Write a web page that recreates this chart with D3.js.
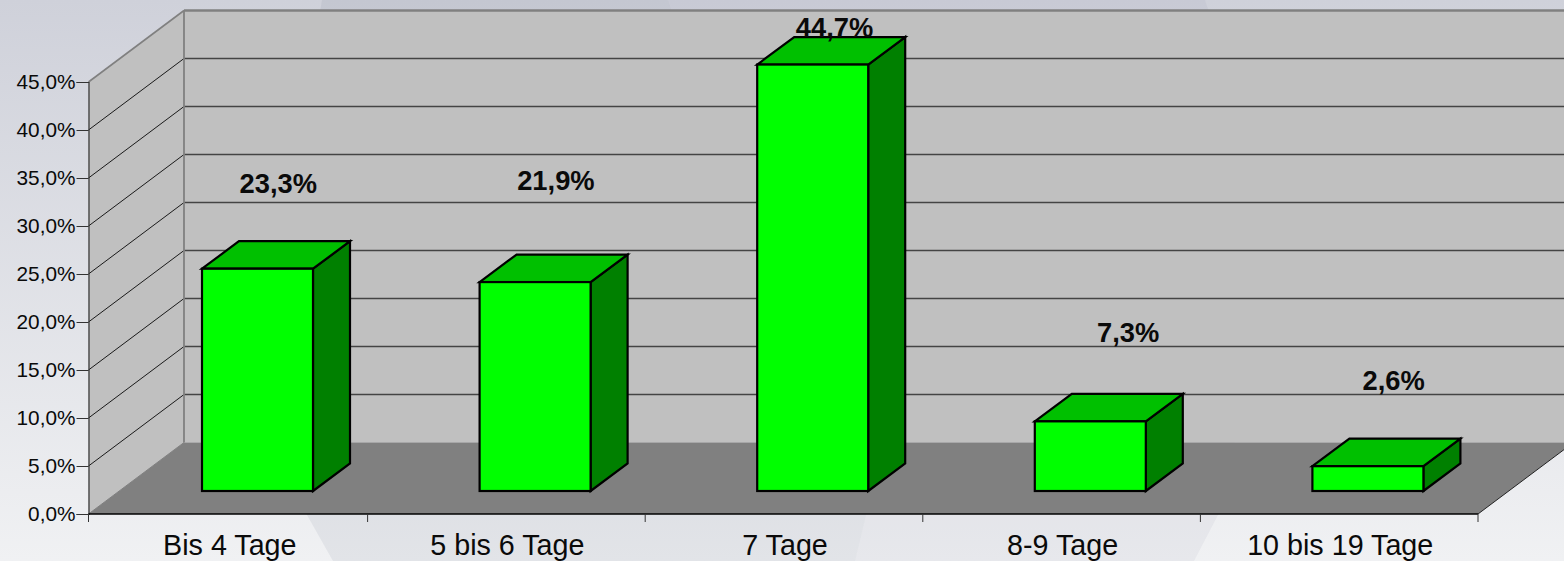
<!DOCTYPE html>
<html>
<head>
<meta charset="utf-8">
<script src="https://cdn.jsdelivr.net/npm/d3@7"></script>
<style>
html,body{margin:0;padding:0;overflow:hidden;background:#eee}
svg{display:block}
text{font-family:"Liberation Sans",Arial,sans-serif;fill:#0a0a0a}
</style>
</head>
<body>
<svg id="c" width="1564" height="561"></svg>
<script>
const categories = ["Bis 4 Tage","5 bis 6 Tage","7 Tage","8-9 Tage","10 bis 19 Tage"];
const values = [23.3,21.9,44.7,7.3,2.6];
const valueLabels = ["23,3%","21,9%","44,7%","7,3%","2,6%"];
const yTicks = [0,5,10,15,20,25,30,35,40,45];
const labelLift = [76,92,28,79,76];
const labelShift = [0,0,1,17,5];

const W=1564,H=561;
const x0=88.5,x1=1478,yBase=514,yTop=82;
const depthX=95.5,depthY=71.5;
const barDX=37,barDY=27.5,barW=111,barBaseLift=23,barInset=112;

const svg=d3.select("#c");
const defs=svg.append("defs");
const g=defs.append("linearGradient").attr("id","bg").attr("x1",0).attr("y1",0).attr("x2",0).attr("y2",1);
g.append("stop").attr("offset",0).attr("stop-color","#cfd1da");
g.append("stop").attr("offset",1).attr("stop-color","#f0f1f3");
svg.append("rect").attr("width",W).attr("height",H).attr("fill","url(#bg)");
svg.append("path").attr("d","M322,0 Q270,300 307,515 L333,561 L855,561 L866,515 Q760,300 668,0 Z").attr("fill","#5a5f78").attr("opacity",0.09);
svg.append("path").attr("d","M668,0 Q760,300 866,515 L855,561 L1194,561 L1218,515 Q1290,250 1205,0 Z").attr("fill","#5a5f78").attr("opacity",0.055);

const y=d3.scaleLinear().domain([0,45]).range([yBase,yTop]);
const yBar=d3.scaleLinear().domain([0,45]).range([yBase-barBaseLift,yBase-barBaseLift-429.3]);
const x=d3.scaleBand().domain(categories).range([90,x1]);

const pts=a=>a.map(p=>p.join(",")).join(" ");
// walls and floor
svg.append("polygon").attr("points",pts([[x0+depthX,y(0)-depthY],[W+20,y(0)-depthY],[W+20,y(45)-depthY],[x0+depthX,y(45)-depthY]])).attr("fill","#c0c0c0");
svg.append("polygon").attr("points",pts([[x0,y(0)],[x0+depthX,y(0)-depthY],[x0+depthX,y(45)-depthY],[x0,y(45)]])).attr("fill","#c0c0c0");
svg.append("polygon").attr("points",pts([[x0,y(0)],[x1,y(0)],[x1+depthX,y(0)-depthY],[x0+depthX,y(0)-depthY]])).attr("fill","#808080");

// gridlines
const grid=svg.append("g");
yTicks.slice(1).forEach(t=>{
  grid.append("line").attr("x1",x0).attr("y1",y(t)).attr("x2",x0+depthX).attr("y2",y(t)-depthY).attr("stroke",t===45?"#808080":"#1a1a1a").attr("stroke-width",t===45?1.6:1);
  grid.append("line").attr("x1",x0+depthX).attr("y1",y(t)-depthY).attr("x2",W+20).attr("y2",y(t)-depthY).attr("stroke",t===45?"#808080":"#444").attr("stroke-width",t===45?2.6:1.3);
});
grid.append("line").attr("x1",x0+depthX).attr("y1",y(45)-depthY).attr("x2",x0+depthX).attr("y2",y(0)-depthY).attr("stroke","#808080").attr("stroke-width",1.8);
grid.append("line").attr("x1",x0).attr("y1",y(0)).attr("x2",x0+depthX).attr("y2",y(0)-depthY).attr("stroke","#808080").attr("stroke-width",1);
grid.append("line").attr("x1",x1).attr("y1",y(0)).attr("x2",x1+depthX).attr("y2",y(0)-depthY).attr("stroke","#222").attr("stroke-width",1);

// bars
const bars=svg.append("g").selectAll("g").data(categories).join("g").attr("stroke","#000").attr("stroke-width",2.2).attr("stroke-linejoin","miter");
bars.each(function(c,i){
  const s=d3.select(this);
  const l=x(c)+barInset,r=l+barW,b=yBar(0),t=yBar(values[i]);
  s.append("polygon").attr("points",pts([[r,b],[r+barDX,b-barDY],[r+barDX,t-barDY],[r,t]])).attr("fill","#008000");
  s.append("polygon").attr("points",pts([[l,t],[r,t],[r+barDX,t-barDY],[l+barDX,t-barDY]])).attr("fill","#00c000");
  s.append("rect").attr("x",l).attr("y",t).attr("width",barW).attr("height",b-t).attr("fill","#00ff00");
});

// axes
const axL=svg.append("g").attr("transform",`translate(${x0},0)`)
  .call(d3.axisLeft(y).tickValues(yTicks).tickSize(12).tickPadding(1).tickFormat(d=>d.toFixed(1).replace(".",",")+"%"));
axL.selectAll("text").attr("font-size",20.8).style("font-family",'"Liberation Sans"');
axL.select(".domain").attr("stroke","#333").attr("stroke-width",1.2);
axL.selectAll(".tick line").attr("stroke","#333");

const axB=svg.append("g").attr("transform",`translate(0,${yBase})`)
  .call(d3.axisBottom(x).tickSize(0).tickPadding(20.5));
axB.selectAll("text").attr("font-size",28.7).attr("dx",1).style("font-family",'"Liberation Sans"');
axB.select(".domain").remove();
svg.append("line").attr("x1",x0).attr("x2",x1).attr("y1",yBase).attr("y2",yBase).attr("stroke","#000").attr("stroke-width",1.5);
svg.append("g").selectAll("line").data(d3.range(categories.length+1)).join("line")
  .attr("x1",i=>i?90+i*x.bandwidth():x0).attr("x2",i=>i?90+i*x.bandwidth():x0)
  .attr("y1",yBase).attr("y2",yBase+8).attr("stroke","#333").attr("stroke-width",1);

// value labels
svg.append("g").selectAll("text").data(categories).join("text")
  .attr("x",(c,i)=>x(c)+x.bandwidth()/2+49.5+labelShift[i])
  .attr("y",(c,i)=>yBar(values[i])-labelLift[i])
  .attr("text-anchor","middle").attr("font-weight","bold").attr("font-size",27.3)
  .text((c,i)=>valueLabels[i]);
</script>
</body>
</html>
